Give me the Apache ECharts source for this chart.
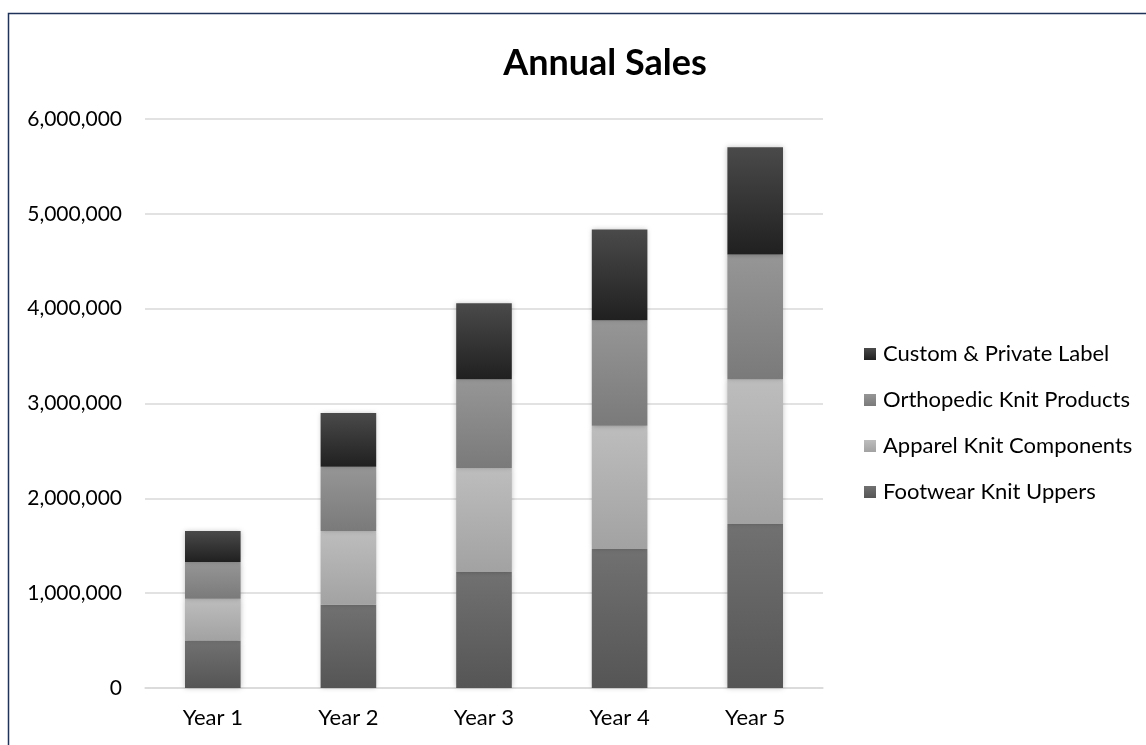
<!DOCTYPE html>
<html>
<head>
<meta charset="utf-8">
<script src="https://cdn.jsdelivr.net/npm/echarts@6/dist/echarts.min.js"></script>
<style>
  html, body { margin: 0; padding: 0; background: #fff; }
  #sales { width: 1146px; height: 745px; }
</style>
</head>
<body>
<div id="sales"></div>
<script>
var years = ['Year 1', 'Year 2', 'Year 3', 'Year 4', 'Year 5'];
var footwear = [501000, 877000, 1224000, 1466000, 1729000];
var apparel = [439000, 779000, 1095000, 1299000, 1527000];
var orthopedic = [389000, 677000, 937000, 1112000, 1315000];
var custom = [327000, 568000, 800000, 958000, 1130000];
var yTicks = [0, 1000000, 2000000, 3000000, 4000000, 5000000, 6000000];

var font = 'Lato';

function grad(top, bottom) {
	return new echarts.graphic.LinearGradient(0, 0, 0, 1, [
		{ offset: 0, color: top },
		{ offset: 1, color: bottom }
	]);
}

function barSeries(name, data, top, bottom) {
	return {
		name: name,
		type: 'bar',
		stack: 'total',
		barWidth: '41%',
		data: data,
		itemStyle: {
			color: grad(top, bottom),
			shadowBlur: 5,
			shadowColor: 'rgba(0,0,0,0.25)'
		}
	};
}

var sales = echarts.init(document.getElementById('sales'));

var option_sales = {
	animation: false,
	title: {
		text: 'Annual Sales',
		left: 600,
		top: 40,
		textAlign: 'center',
		textStyle: { fontFamily: font, fontWeight: 'bold', fontSize: 36, color: '#000' }
	},
	graphic: [{
		type: 'rect',
		shape: { x: 8.5, y: 13.5, width: 2000, height: 2000 },
		style: { fill: 'none', stroke: '#1f3358', lineWidth: 1.5 },
		silent: true
	}],
	grid: { left: 145, right: 323, top: 119, bottom: 57 },
	legend: {
		orient: 'vertical',
		left: 859,
		top: 338,
		itemWidth: 12,
		itemHeight: 12,
		itemGap: 24,
		icon: 'rect',
		data: ['Custom & Private Label', 'Orthopedic Knit Products', 'Apparel Knit Components', 'Footwear Knit Uppers'],
		textStyle: { fontFamily: font, fontSize: 22, color: '#000', padding: [0, 0, 0, 2] }
	},
	xAxis: {
		type: 'category',
		data: years,
		axisTick: { show: false },
		axisLine: { lineStyle: { color: '#d9d9d9', width: 1.5 } },
		axisLabel: { fontFamily: font, fontSize: 22, color: '#000', margin: 19 }
	},
	yAxis: {
		type: 'value',
		min: yTicks[0],
		max: yTicks[yTicks.length - 1],
		interval: 1000000,
		axisLine: { show: false },
		axisTick: { show: false },
		splitLine: { lineStyle: { color: '#d9d9d9', width: 1.5 } },
		axisLabel: {
			fontFamily: font, fontSize: 21, color: '#000', margin: 23,
			formatter: function (v) { return v.toLocaleString('en-US'); }
		}
	},
	series: [
		barSeries('Footwear Knit Uppers', footwear, '#717171', '#555555'),
		barSeries('Apparel Knit Components', apparel, '#bdbdbd', '#a2a2a2'),
		barSeries('Orthopedic Knit Products', orthopedic, '#969696', '#7a7a7a'),
		barSeries('Custom & Private Label', custom, '#4a4a4a', '#202020')
	]
};

sales.setOption(option_sales);
</script>
</body>
</html>
